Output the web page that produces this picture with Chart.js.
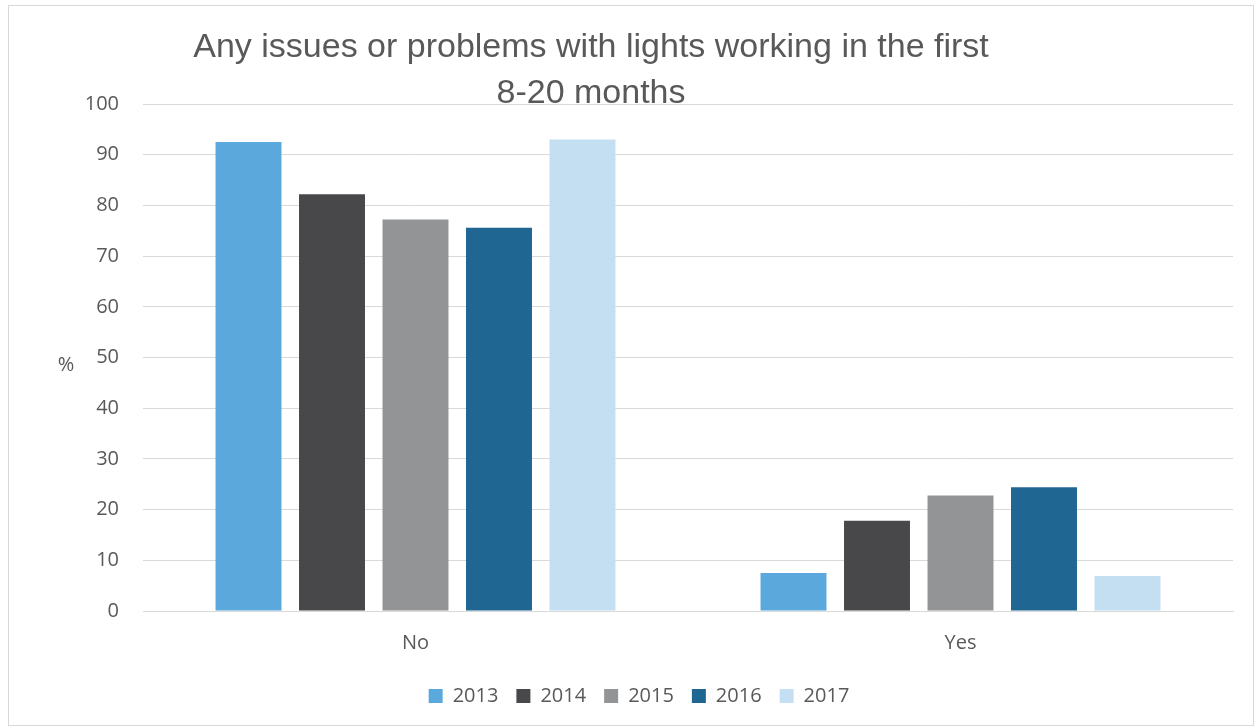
<!DOCTYPE html>
<html>
<head>
<meta charset="utf-8">
<style>
  html, body { margin: 0; padding: 0; background: #fff; }
  #grafico { display: block; }
</style>
</head>
<body>
<canvas id="grafico" width="1259" height="728"></canvas>

<script src="https://cdn.jsdelivr.net/npm/chart.js"></script>
<script>
  // respostas por ano (%)
  const categorias = ["No", "Yes"];
  const anos = ["2013", "2014", "2015", "2016", "2017"];
  const valores2013 = [92.5, 7.5];
  const valores2014 = [82.2, 17.8];
  const valores2015 = [77.2, 22.8];
  const valores2016 = [75.6, 24.4];
  const valores2017 = [93.0, 6.9];
  const yTicks = [0, 10, 20, 30, 40, 50, 60, 70, 80, 90, 100];

  const cores = ["#5BA9DC", "#48484A", "#939496", "#1F6693", "#C3DFF1"];
  const serieValores = [valores2013, valores2014, valores2015, valores2016, valores2017];

  const fonte = "'Open Sans', 'Liberation Sans', sans-serif";
  const cinza = "#595959";

  // titulo, rotulo "%" e moldura
  const decoracao = {
    id: "decoracao",
    beforeDraw(chart) {
      const c = chart.ctx;
      c.save();
      c.strokeStyle = "#D9D9D9";
      c.lineWidth = 1;
      c.strokeRect(8.5, 5.5, 1245, 720);
      c.restore();
    },
    afterDraw(chart) {
      const c = chart.ctx;
      c.save();
      c.fillStyle = cinza;
      c.textAlign = "center";
      c.textBaseline = "alphabetic";
      c.font = "34px 'Liberation Sans', sans-serif";
      c.fillText("Any issues or problems with lights working in the first", 591, 57);
      c.fillText("8-20 months", 591, 103);
      c.font = "20px " + fonte;
      c.textBaseline = "middle";
      c.fillText("%", 66, 365);
      c.restore();
    }
  };

  const ctx = document.getElementById("grafico").getContext("2d");

  new Chart(ctx, {
    type: "bar",
    data: {
      labels: categorias,
      datasets: anos.map((ano, i) => ({
        label: ano,
        data: serieValores[i],
        backgroundColor: cores[i],
        categoryPercentage: 0.766,
        barPercentage: 0.79,
      }))
    },
    options: {
      responsive: false,
      animation: false,
      layout: { padding: { top: 104, right: 26, bottom: 12, left: 45 } },
      plugins: {
        title: { display: false },
        tooltip: { enabled: false },
        legend: {
          position: "bottom",
          labels: {
            boxWidth: 14,
            boxHeight: 14,
            padding: 18,
            color: cinza,
            font: { size: 20, family: fonte },
          }
        }
      },
      scales: {
        x: {
          grid: { display: false, drawTicks: false },
          border: { color: "#D9D9D9" },
          ticks: { color: cinza, padding: 20, font: { size: 20, family: fonte } },
          afterFit: s => { s.height = 57; }
        },
        y: {
          min: 0,
          max: 100,
          afterBuildTicks: s => { s.ticks = yTicks.map(v => ({ value: v })); },
          grid: { color: "#D9D9D9", lineWidth: 1, drawTicks: false },
          border: { display: false },
          ticks: { color: cinza, padding: 24, font: { size: 20, family: fonte } },
          afterFit: s => { s.width = 98; }
        }
      }
    },
    plugins: [decoracao],
  });
</script>
</body>
</html>
